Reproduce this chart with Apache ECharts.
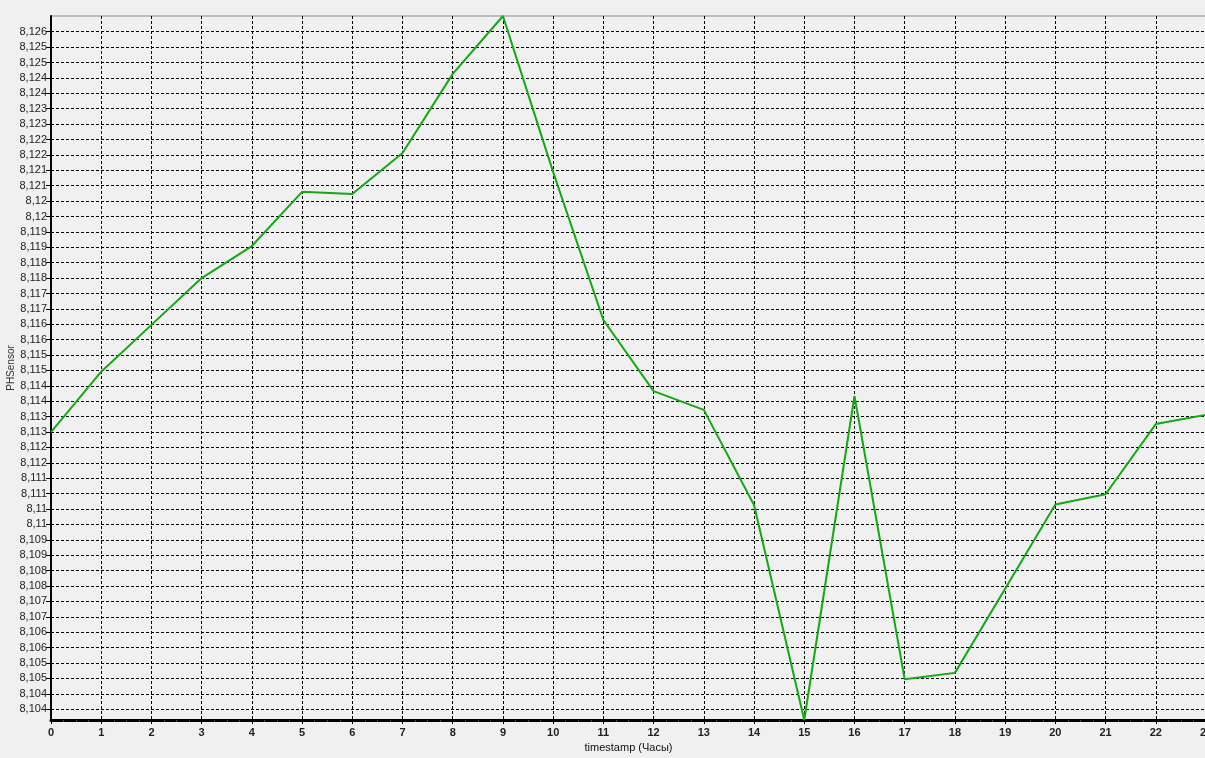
<!DOCTYPE html>
<html>
<head>
<meta charset="utf-8">
<script src="https://cdn.jsdelivr.net/npm/echarts@6/dist/echarts.min.js"></script>
<style>
html,body{margin:0;padding:0;background:#f0f0f0;}
#chart{width:1205px;height:758px;}
</style>
</head>
<body>
<div id="chart"></div>
<script>
// Hours (timestamp, Часы)
var hours = [0,1,2,3,4,5,6,7,8,9,10,11,12,13,14,15,16,17,18,19,20,21,22,23];
// PHSensor readings
var phValues = [8.11275,8.11471,8.11623,8.11775,8.11879,8.12055,8.12048,8.12181,8.12438,8.12626,
                8.12119,8.11639,8.11408,8.11347,8.11038,8.10340,8.11392,8.10472,8.10493,8.10766,
                8.11040,8.11073,8.11301,8.11331];
// Y tick positions (labels are rounded to 3 decimals)
var yTickStart = 8.10375;
var yTickStep = 0.0005;
var yTickCount = 45;
var yTicks = [];
for (var k = 0; k < yTickCount; k++) yTicks.push(+(yTickStart + k * yTickStep).toFixed(5));

var seriesData = hours.map(function (h, i) { return [h, phValues[i]]; });

var chart = echarts.init(document.getElementById('chart'));
chart.setOption({
  backgroundColor: '#f0f0f0',
  animation: false,
  grid: {
    left: 51, top: 16, width: 1155, bottom: 38,
    outerBoundsMode: 'none', containLabel: false,
    show: true, backgroundColor: '#f0f0f0', borderColor: '#8a8a8a', borderWidth: 1
  },
  xAxis: {
    type: 'value', min: 0, max: 23, interval: 1,
    name: 'timestamp (Часы)', nameLocation: 'middle', nameGap: 21,
    nameTextStyle: { fontFamily: 'Liberation Sans', fontSize: 11, color: '#111' },
    axisLine: { show: true, onZero: false, lineStyle: { color: '#000', width: 3 } },
    axisTick: { show: true, length: 4, lineStyle: { color: '#000', width: 1 } },
    minorTick: { show: true, splitNumber: 4, length: 2, lineStyle: { color: '#444', width: 1 } },
    axisLabel: { fontFamily: 'Liberation Sans', fontSize: 11, fontWeight: 'bold', color: '#222', margin: 7 },
    splitLine: { show: true, lineStyle: { color: '#000', width: 1, type: [3, 2] } }
  },
  yAxis: {
    type: 'value', min: 'dataMin', max: 'dataMax', scale: true,
    name: 'PHSensor', nameLocation: 'middle', nameGap: 35, nameRotate: 90, nameMoveOverlap: false,
    nameTextStyle: { fontFamily: 'Liberation Sans', fontSize: 10, color: '#333' },
    axisLine: { show: true, lineStyle: { color: '#000', width: 2 } },
    axisTick: { show: true, length: 5, customValues: yTicks, lineStyle: { color: '#000', width: 1 } },
    axisLabel: {
      customValues: yTicks, fontFamily: 'Liberation Sans', fontSize: 11, color: '#222', margin: 4,
      formatter: function (v) { return String(Math.round(v * 1000) / 1000).replace('.', ','); }
    },
    splitLine: { show: true, lineStyle: { color: '#000', width: 1, type: [3, 2] } }
  },
  series: [{
    type: 'line', data: seriesData, showSymbol: false, clip: false,
    lineStyle: { color: '#14a814', width: 2 }
  }]
});
</script>
</body>
</html>
